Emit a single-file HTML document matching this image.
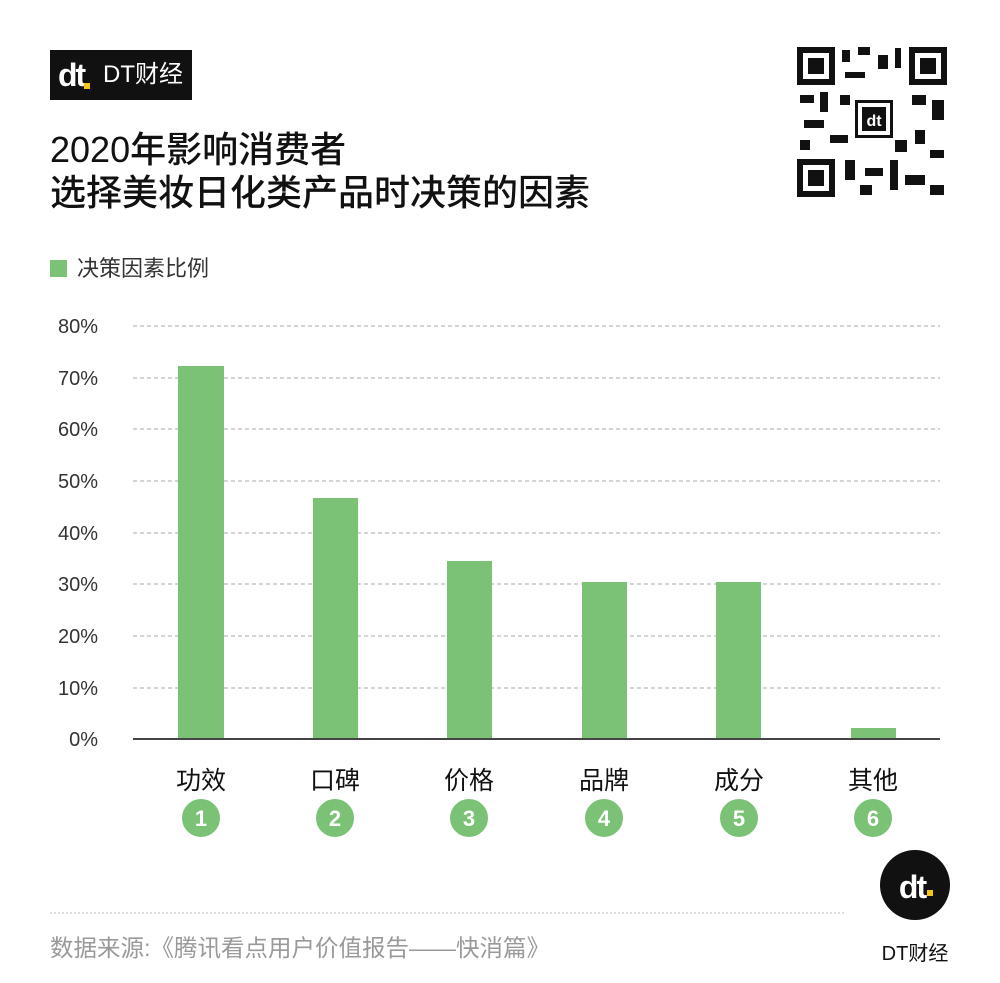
<!DOCTYPE html>
<html><head><meta charset="utf-8"><style>
body{margin:0;width:1000px;height:983px;background:#fff;overflow:hidden;position:relative;font-family:"Liberation Sans","Noto Sans CJK SC",sans-serif;}
.a{position:absolute;}
</style></head><body>
<div class="a" style="left:50px;top:50px;width:142px;height:50px;background:#111;"></div>
<div class="a" style="left:58px;top:58px;color:#fff;font-weight:bold;font-size:32px;line-height:34px;letter-spacing:-2px;">dt</div>
<div class="a" style="left:84px;top:83px;width:6px;height:6px;background:#f5c518;"></div>
<div class="a" style="left:103px;top:60px;color:#fff;font-size:24px;line-height:30px;">DT财经</div>
<div class="a" style="left:50px;top:128px;color:#111;font-size:36px;line-height:43px;font-weight:500;">2020年影响消费者<br>选择美妆日化类产品时决策的因素</div>
<div class="a" style="left:50px;top:260px;width:17px;height:17px;background:#7bc277;"></div>
<div class="a" style="left:77px;top:254px;color:#333;font-size:22px;line-height:30px;">决策因素比例</div>
<svg class="a" style="left:0;top:0" width="1000" height="983">
<g stroke="#aaa" stroke-dasharray="4,3" stroke-width="1">
<line x1="133" x2="940" y1="326" y2="326"/><line x1="133" x2="940" y1="378" y2="378"/>
<line x1="133" x2="940" y1="429" y2="429"/><line x1="133" x2="940" y1="481" y2="481"/>
<line x1="133" x2="940" y1="533" y2="533"/><line x1="133" x2="940" y1="584" y2="584"/>
<line x1="133" x2="940" y1="636" y2="636"/><line x1="133" x2="940" y1="688" y2="688"/>
</g>
<g fill="#7bc277">
<rect x="178" y="366" width="46" height="373"/><rect x="313" y="498" width="45" height="241"/>
<rect x="447" y="561" width="45" height="178"/><rect x="582" y="582" width="45" height="157"/>
<rect x="716" y="582" width="45" height="157"/><rect x="851" y="728" width="45" height="11"/>
</g>
<line x1="133" x2="940" y1="739" y2="739" stroke="#444" stroke-width="2"/>
<g font-size="20" fill="#333" text-anchor="end" font-family="Liberation Sans,sans-serif">
<text x="98" y="333">80%</text><text x="98" y="385">70%</text><text x="98" y="436">60%</text>
<text x="98" y="488">50%</text><text x="98" y="540">40%</text><text x="98" y="591">30%</text>
<text x="98" y="643">20%</text><text x="98" y="695">10%</text><text x="98" y="746">0%</text>
</g>
<g font-size="25" fill="#111" text-anchor="middle" font-family="Liberation Sans,Noto Sans CJK SC,sans-serif">
<text x="201" y="789">功效</text><text x="335" y="789">口碑</text><text x="469" y="789">价格</text>
<text x="604" y="789">品牌</text><text x="739" y="789">成分</text><text x="873" y="789">其他</text>
</g>
<g fill="#7bc277" stroke="#fff" stroke-width="2">
<circle cx="201" cy="818" r="20"/><circle cx="335" cy="818" r="20"/><circle cx="469" cy="818" r="20"/>
<circle cx="604" cy="818" r="20"/><circle cx="739" cy="818" r="20"/><circle cx="873" cy="818" r="20"/>
</g>
<g fill="none" stroke="#7bc277" stroke-width="1.5">
<circle cx="201" cy="818" r="17"/><circle cx="335" cy="818" r="17"/><circle cx="469" cy="818" r="17"/>
<circle cx="604" cy="818" r="17"/><circle cx="739" cy="818" r="17"/><circle cx="873" cy="818" r="17"/>
</g>
<g font-size="22" font-weight="bold" fill="#fff" text-anchor="middle">
<text x="201" y="826">1</text><text x="335" y="826">2</text><text x="469" y="826">3</text>
<text x="604" y="826">4</text><text x="739" y="826">5</text><text x="873" y="826">6</text>
</g>
<line x1="50" x2="845" y1="913" y2="913" stroke="#bbb" stroke-dasharray="2,2"/>
<text x="50" y="956" font-size="23.5" fill="#999" font-family="Liberation Sans,Noto Sans CJK SC,sans-serif">数据来源:《腾讯看点用户价值报告——快消篇》</text>
<circle cx="915" cy="885" r="35" fill="#111"/>
<text x="912" y="898" font-size="32" font-weight="bold" fill="#fff" text-anchor="middle" letter-spacing="-2">dt</text>
<rect x="927" y="890" width="6" height="6" fill="#f5c518"/>
<text x="915" y="960" font-size="20" fill="#111" text-anchor="middle" font-family="Liberation Sans,Noto Sans CJK SC,sans-serif">DT财经</text>
<g fill="#111">
<rect x="797" y="47" width="150" height="150" fill="#fff"/>
<rect x="797" y="47" width="38" height="38"/><rect x="803" y="53" width="26" height="26" fill="#fff"/><rect x="808" y="58" width="16" height="16"/>
<rect x="909" y="47" width="38" height="38"/><rect x="915" y="53" width="26" height="26" fill="#fff"/><rect x="920" y="58" width="16" height="16"/>
<rect x="797" y="159" width="38" height="38"/><rect x="803" y="165" width="26" height="26" fill="#fff"/><rect x="808" y="170" width="16" height="16"/>
<rect x="842" y="50" width="8" height="12"/><rect x="858" y="47" width="12" height="8"/><rect x="878" y="55" width="10" height="14"/><rect x="895" y="48" width="6" height="20"/>
<rect x="845" y="72" width="20" height="6"/><rect x="800" y="95" width="14" height="8"/><rect x="820" y="92" width="8" height="20"/><rect x="804" y="120" width="20" height="8"/>
<rect x="800" y="140" width="10" height="10"/><rect x="830" y="135" width="18" height="8"/><rect x="912" y="95" width="14" height="10"/><rect x="932" y="100" width="12" height="20"/>
<rect x="915" y="130" width="10" height="14"/><rect x="930" y="150" width="14" height="8"/><rect x="845" y="160" width="10" height="20"/><rect x="865" y="168" width="18" height="8"/>
<rect x="890" y="160" width="8" height="30"/><rect x="905" y="175" width="20" height="10"/><rect x="930" y="185" width="14" height="10"/><rect x="860" y="185" width="12" height="10"/>
<rect x="840" y="95" width="10" height="10"/><rect x="895" y="140" width="12" height="12"/><rect x="855" y="100" width="38" height="38"/>
<rect x="858" y="103" width="32" height="32" fill="#fff"/><rect x="862" y="107" width="24" height="24"/>
</g>
<text x="874" y="126" font-size="16" font-weight="bold" fill="#fff" text-anchor="middle">dt</text>
</svg>
</body></html>
